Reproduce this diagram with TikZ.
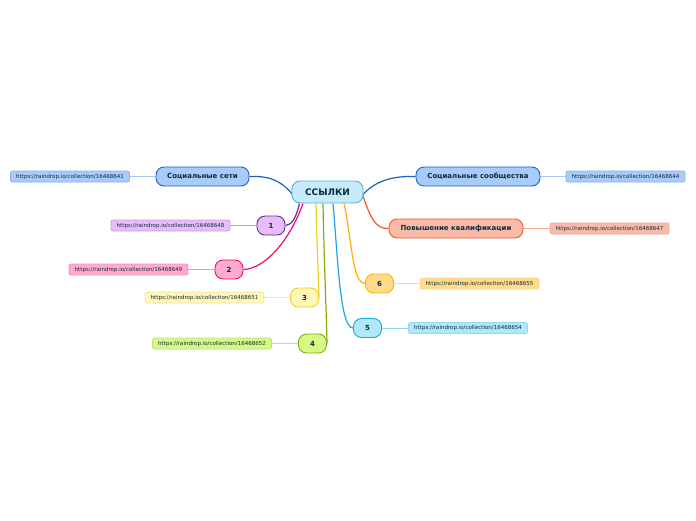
\documentclass[tikz,border=0pt]{standalone}
\usepackage{fontspec}
\setmainfont{DejaVu Sans}
\usetikzlibrary{backgrounds}
\definecolor{txt}{HTML}{0E2A3C}
\definecolor{cFill}{HTML}{C6EBFB}\definecolor{cDraw}{HTML}{5AAEE0}
\definecolor{bFill}{HTML}{A7CBFA}\definecolor{bDraw}{HTML}{1F5FC8}\definecolor{bLine}{HTML}{A7CBFA}
\definecolor{oFill}{HTML}{F9BBA9}\definecolor{oDraw}{HTML}{F05A28}\definecolor{oLine}{HTML}{F7A890}
\definecolor{pFill}{HTML}{E6BDFA}\definecolor{pDraw}{HTML}{6A2C91}\definecolor{pLine}{HTML}{C9A0E0}
\definecolor{kFill}{HTML}{FFAACF}\definecolor{kDraw}{HTML}{E8106E}\definecolor{kLine}{HTML}{F590B8}
\definecolor{yFill}{HTML}{FFF6BC}\definecolor{yDraw}{HTML}{F0D020}\definecolor{yLine}{HTML}{F8E890}
\definecolor{gFill}{HTML}{D6F986}\definecolor{gDraw}{HTML}{80B010}\definecolor{gLine}{HTML}{C0E080}
\definecolor{aFill}{HTML}{FFDB8A}\definecolor{aDraw}{HTML}{FFB000}\definecolor{aLine}{HTML}{FFD890}
\definecolor{sFill}{HTML}{B0E8FB}\definecolor{sDraw}{HTML}{18A8E8}\definecolor{sLine}{HTML}{90D8F4}
\tikzset{
  topic/.style={rounded corners=8pt, line width=0.9pt, inner sep=0pt, text=txt, font=\bfseries\fontsize{7}{8}\selectfont, minimum height=19pt},
  num/.style={topic, minimum width=28pt},
  url/.style={rounded corners=2pt, line width=0.7pt, inner sep=0pt, text=txt, font=\fontsize{5.5}{6}\selectfont, minimum height=11pt, minimum width=119pt},
  branch/.style={line width=1.2pt},
  leaf/.style={line width=1pt},
}
\begin{document}
\begin{tikzpicture}[x=1pt,y=-1pt]
\useasboundingbox (0,0) rectangle (696,520);
% center
\node[topic, fill=cFill, draw=cDraw, minimum width=71pt, minimum height=22pt, font=\bfseries\fontsize{9}{10}\selectfont] (c) at (327.5,192) {ССЫЛКИ};
% topics
\node[topic, fill=bFill, draw=bDraw, minimum width=93pt] (ss) at (202.5,176.5) {Социальные сети};
\node[url, fill=bFill, draw=bDraw!50] (uss) at (70,176.5) {https://raindrop.io/collection/16468641};
\node[topic, fill=bFill, draw=bDraw, minimum width=124pt] (sc) at (478,176.5) {Социальные сообщества};
\node[url, fill=bFill, draw=bDraw!50] (usc) at (625.5,176.5) {https://raindrop.io/collection/16468644};
\node[topic, fill=oFill, draw=oDraw, minimum width=134pt] (pk) at (456,228.5) {Повышение квалификации};
\node[url, fill=oFill, draw=oLine] (upk) at (609.5,228.5) {https://raindrop.io/collection/16468647};
\node[num, fill=pFill, draw=pDraw] (n1) at (271,225.5) {1};
\node[url, fill=pFill, draw=pLine] (u1) at (170.5,225.5) {https://raindrop.io/collection/16468648};
\node[num, fill=kFill, draw=kDraw] (n2) at (229,269.5) {2};
\node[url, fill=kFill, draw=kLine] (u2) at (128.5,269.5) {https://raindrop.io/collection/16468649};
\node[num, fill=yFill, draw=yDraw] (n3) at (304.5,297.5) {3};
\node[url, fill=yFill, draw=yLine] (u3) at (204.5,297.5) {https://raindrop.io/collection/16468651};
\node[num, fill=gFill, draw=gDraw] (n4) at (312.5,343.5) {4};
\node[url, fill=gFill, draw=gLine] (u4) at (212,343.5) {https://raindrop.io/collection/16468652};
\node[num, fill=aFill, draw=aDraw] (n6) at (379.5,283.5) {6};
\node[url, fill=aFill, draw=aLine] (u6) at (479.5,283.5) {https://raindrop.io/collection/16468655};
\node[num, fill=sFill, draw=sDraw] (n5) at (367.5,328) {5};
\node[url, fill=sFill, draw=sLine] (u5) at (468,328) {https://raindrop.io/collection/16468654};
\begin{scope}[on background layer]
\fill[white] (0,0) rectangle (696,520);
% leaf connectors
\draw[leaf, bLine] (ss.west) -- (uss.east);
\draw[leaf, bLine] (sc.east) -- (usc.west);
\draw[leaf, oLine] (pk.east) -- (upk.west);
\draw[leaf, pLine] (n1.west) -- (u1.east);
\draw[leaf, kLine] (n2.west) -- (u2.east);
\draw[leaf, yLine] (n3.west) -- (u3.east);
\draw[leaf, gLine] (n4.west) -- (u4.east);
\draw[leaf, aLine] (n6.east) -- (u6.west);
\draw[leaf, sLine] (n5.east) -- (u5.west);
% branch connectors
\draw[branch, bDraw] ([xshift=-31pt,yshift=-8pt]c.center) .. controls (282,178) and (266,176) .. (ss.east);
\draw[branch, bDraw] ([xshift=31pt,yshift=-8pt]c.center) .. controls (374,178) and (398,176) .. (sc.west);
\draw[branch, oDraw] ([xshift=31pt,yshift=10pt]c.center) .. controls (370,220) and (376,229) .. (pk.west);
\draw[branch, pDraw] ([xshift=-28pt]c.south) .. controls (296,218) and (292,225) .. (n1.east);
\draw[branch, kDraw] ([xshift=-24.5pt]c.south) .. controls (290,240) and (265,269) .. (n2.east);
\draw[branch, yDraw] ([xshift=-11.5pt]c.south) .. controls (317,250) and (319,290) .. (n3.east);
\draw[branch, gDraw] ([xshift=-4.5pt]c.south) .. controls (324,260) and (327,330) .. (n4.east);
\draw[branch, sDraw] ([xshift=5.5pt]c.south) .. controls (338,260) and (340,328) .. (n5.west);
\draw[branch, aDraw] ([xshift=16.5pt]c.south) .. controls (352,240) and (352,283) .. (n6.west);
\end{scope}
\end{tikzpicture}
\end{document}
